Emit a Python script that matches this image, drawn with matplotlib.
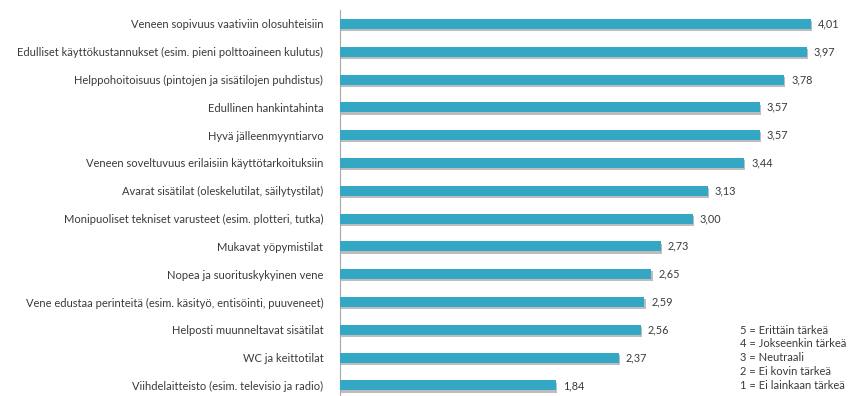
import matplotlib.pyplot as plt

plt.rcParams['font.family'] = ['Lato', 'DejaVu Sans']

# Survey: importance of boat features (mean on a 1-5 scale)
features = [
    "Veneen sopivuus vaativiin olosuhteisiin",
    "Edulliset käyttökustannukset (esim. pieni polttoaineen kulutus)",
    "Helppohoitoisuus (pintojen ja sisätilojen puhdistus)",
    "Edullinen hankintahinta",
    "Hyvä jälleenmyyntiarvo",
    "Veneen soveltuvuus erilaisiin käyttötarkoituksiin",
    "Avarat sisätilat (oleskelutilat, säilytystilat)",
    "Monipuoliset tekniset varusteet (esim. plotteri, tutka)",
    "Mukavat yöpymistilat",
    "Nopea ja suorituskykyinen vene",
    "Vene edustaa perinteitä (esim. käsityö, entisöinti, puuveneet)",
    "Helposti muunneltavat sisätilat",
    "WC ja keittotilat",
    "Viihdelaitteisto (esim. televisio ja radio)",
]
means = [4.01, 3.97, 3.78, 3.57, 3.57, 3.44, 3.13, 3.00, 2.73, 2.65, 2.59, 2.56, 2.37, 1.84]
scale_notes = [
    "5 = Erittäin tärkeä",
    "4 = Jokseenkin tärkeä",
    "3 = Neutraali",
    "2 = Ei kovin tärkeä",
    "1 = Ei lainkaan tärkeä",
]

fig = plt.figure(figsize=(8.5, 3.96), dpi=100)
ax = fig.add_axes([0.4, 0.0, 0.6, 0.9747])

pos = list(range(len(features)))
bar_h = 0.36
txt = '#3a3a3a'

# soft drop shadow under each bar
ax.barh([p + 0.08 for p in pos], [m + 0.01 for m in means], height=bar_h,
        color='#bdbdbd', zorder=2)
ax.barh(pos, means, height=bar_h, color='#34a7c5', zorder=3)

for p, m in zip(pos, means):
    ax.text(m + 0.06, p, f"{m:.2f}".replace('.', ','), va='center', ha='left',
            fontsize=7.8, color=txt)

ax.set_xlim(0, 4.34)
ax.set_ylim(13.38, -0.5)
ax.set_yticks(pos)
ax.set_yticklabels(features, fontsize=8.0, color=txt)
ax.tick_params(axis='y', length=0, pad=12)
ax.set_xticks([])
for side in ['top', 'right', 'bottom']:
    ax.spines[side].set_visible(False)
ax.spines['left'].set_color('#a8a8a8')
ax.spines['left'].set_linewidth(0.8)

# scale explanation in the lower right corner
for i, note in enumerate(scale_notes):
    fig.text(740 / 850, 1 - (330 + 13.8 * i) / 396, note, fontsize=8.0,
             color=txt, va='center', ha='left')

fig.savefig('out.png', dpi=100)
